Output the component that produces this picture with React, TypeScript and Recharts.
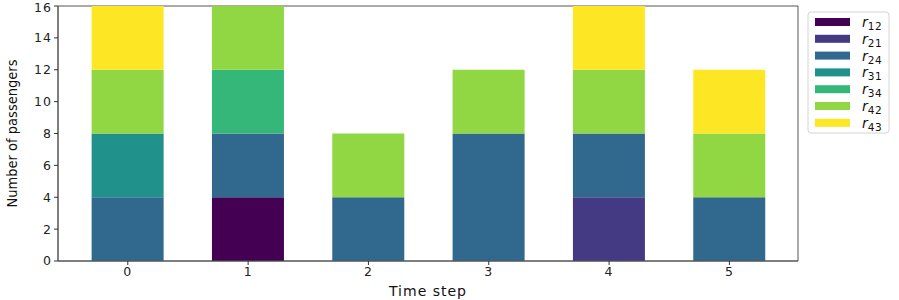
import { BarChart, Bar, XAxis, YAxis, Label, ReferenceArea } from "recharts";

const steps = [0, 1, 2, 3, 4, 5];
const seriesKeys = ["r12", "r21", "r24", "r31", "r34", "r42", "r43"];
const seriesSubs = ["12", "21", "24", "31", "34", "42", "43"];
const seriesColors = ["#440154", "#443983", "#31688e", "#21918c", "#35b779", "#90d743", "#fde725"];

const r12 = [0, 4, 0, 0, 0, 0];
const r21 = [0, 0, 0, 0, 4, 0];
const r24 = [4, 4, 4, 8, 4, 4];
const r31 = [4, 0, 0, 0, 0, 0];
const r34 = [0, 4, 0, 0, 0, 0];
const r42 = [4, 4, 4, 4, 4, 4];
const r43 = [4, 0, 0, 0, 4, 4];

const yTicks = [0, 2, 4, 6, 8, 10, 12, 14, 16];
const xDomain: [number, number] = [-0.58, 5.57];

const values: Record<string, number[]> = { r12, r21, r24, r31, r34, r42, r43 };

const data = steps.map((s, i) => {
  const row: Record<string, number> = { step: s };
  for (const k of seriesKeys) row[k] = values[k][i];
  return row;
});

const tickFont = { fontSize: 12.5, fill: "#222", fontFamily: "DejaVu Sans", letterSpacing: 1 };

export default function App() {
  return (
    <div style={{ position: "absolute", left: 0, top: 0, width: 899, height: 300, background: "#fff" }}>
      <BarChart
        width={899}
        height={300}
        data={data}
        margin={{ top: 6, right: 101, bottom: 0, left: 0 }}
      >
        <XAxis
          dataKey="step"
          type="number"
          domain={xDomain}
          ticks={steps}
          allowDataOverflow
          height={39}
          tick={tickFont}
          tickSize={4}
          stroke="#555"
          tickLine={{ stroke: "#333" }}
        >
          <Label
            value="Time step"
            position="insideBottom"
            offset={4}
            style={{ fontSize: 14, fill: "#111", fontFamily: "DejaVu Sans", letterSpacing: 1 }}
          />
        </XAxis>
        <YAxis
          type="number"
          domain={[0, 16]}
          ticks={yTicks}
          width={58}
          tick={tickFont}
          tickSize={4}
          stroke="#555"
          tickLine={{ stroke: "#333" }}
        >
          <Label
            value="Number of passengers"
            angle={-90}
            position="insideLeft"
            offset={12}
            style={{ textAnchor: "middle", fontSize: 14.5, fill: "#111", fontFamily: "'Liberation Sans Narrow', 'DejaVu Sans'", fontStretch: "condensed" }}
          />
        </YAxis>
        {seriesKeys.map((k, i) => (
          <Bar
            key={k}
            dataKey={k}
            stackId="a"
            fill={seriesColors[i]}
            barSize={72}
            isAnimationActive={false}
          />
        ))}
        <ReferenceArea
          x1={xDomain[0]}
          x2={xDomain[1]}
          y1={0}
          y2={16}
          fill="none"
          stroke="#555"
          strokeWidth={1}
          ifOverflow="visible"
        />
      </BarChart>
      <svg
        width={84}
        height={124}
        style={{ position: "absolute", left: 807, top: 11 }}
      >
        <rect x={1} y={1} width={81} height={121} rx={3} fill="#fff" stroke="#d4d4d4" />
        {seriesKeys.map((k, i) => (
          <g key={k}>
            <rect x={8} y={7 + i * 16.8} width={35} height={8} fill={seriesColors[i]} />
            <text
              x={55}
              y={16 + i * 16.8}
              fontFamily="DejaVu Sans"
              fontSize={14}
              fill="#111"
            >
              <tspan fontStyle="italic">r</tspan>
              <tspan fontSize={10.5} dy={3} letterSpacing={0.5}>{seriesSubs[i]}</tspan>
            </text>
          </g>
        ))}
      </svg>
    </div>
  );
}
